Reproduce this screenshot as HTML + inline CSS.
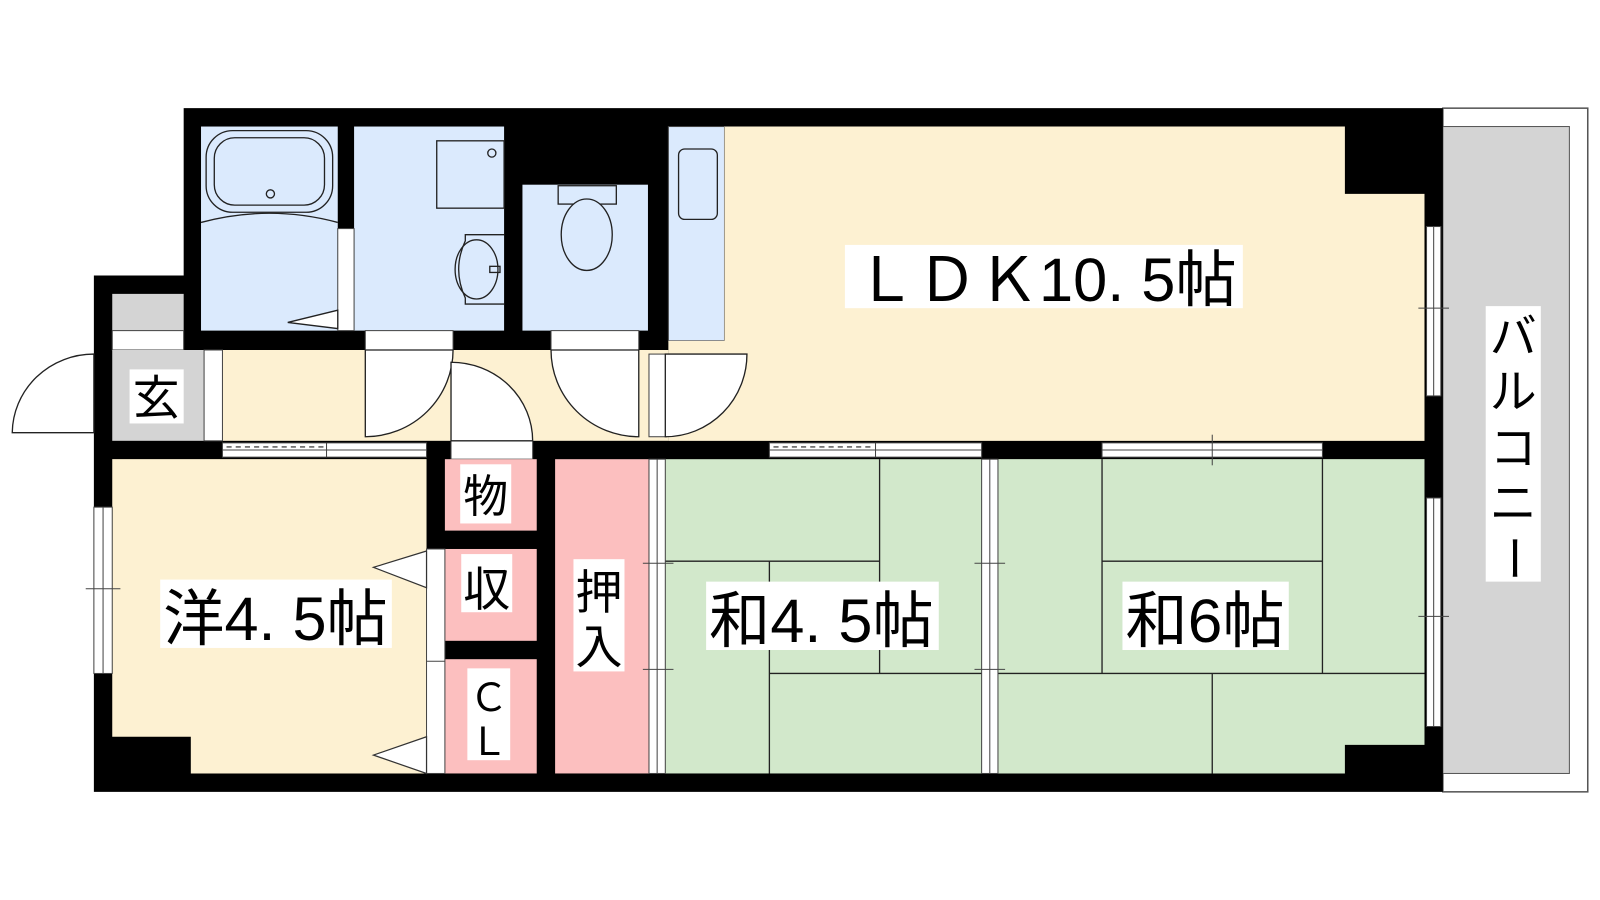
<!DOCTYPE html>
<html><head><meta charset="utf-8"><style>
html,body{margin:0;padding:0;background:#fff;width:1600px;height:900px;overflow:hidden}
text{font-family:"Liberation Sans","Noto Sans CJK JP",sans-serif;fill:#000}
</style></head><body>
<svg width="1600" height="900" viewBox="0 0 1568 882" preserveAspectRatio="none" xmlns="http://www.w3.org/2000/svg">
<!-- balcony -->
<rect x="1414" y="106" width="142" height="670" fill="#fff" stroke="#555" stroke-width="1.5"/>
<rect x="1414" y="124" width="124" height="634" fill="#d4d4d4" stroke="#555" stroke-width="1"/>
<rect x="1456" y="300" width="54" height="270" fill="#fff"/>
<g font-size="46" text-anchor="middle">
<text x="1483" y="346">バ</text>
<text x="1483" y="400">ル</text>
<text x="1483" y="455">コ</text>
<text x="1483" y="509">ニ</text>
<text x="1483" y="563" transform="rotate(90 1483 547)">ー</text>
</g>
<!-- building footprint -->
<polygon points="180,106 1414,106 1414,776 92,776 92,270 180,270" fill="#000"/>
<!-- wet areas -->
<rect x="197" y="124" width="134" height="200" fill="#dbeafd"/>
<rect x="347" y="124" width="147" height="200" fill="#dbeafd"/>
<rect x="512" y="181" width="123" height="143" fill="#dbeafd"/>
<rect x="655" y="124" width="55" height="210" fill="#dbeafd" stroke="#444" stroke-width="1"/>
<!-- LDK -->
<polygon points="710,124 1318,124 1318,190 1396,190 1396,432 655,432 655,334 710,334" fill="#fdf1d2"/>
<!-- hall -->
<rect x="218" y="343" width="437" height="89" fill="#fdf1d2"/>
<!-- genkan -->
<rect x="110" y="288" width="70" height="36" fill="#d4d4d4"/>
<rect x="110" y="324" width="70" height="19" fill="#fff" stroke="#444" stroke-width="1"/>
<rect x="110" y="343" width="90" height="89" fill="#d4d4d4"/>
<rect x="200" y="343" width="18" height="89" fill="#fff" stroke="#444" stroke-width="1"/>
<rect x="127" y="362" width="53" height="53" fill="#fff"/>
<text x="153" y="406" font-size="46" text-anchor="middle">玄</text>
<!-- door openings -->
<rect x="358" y="324" width="86" height="19" fill="#fff" stroke="#444" stroke-width="1"/>
<rect x="540" y="324" width="86" height="19" fill="#fff" stroke="#444" stroke-width="1"/>
<rect x="636" y="347" width="17" height="81" fill="#fff" stroke="#444" stroke-width="1"/>
<rect x="442" y="432" width="80" height="18" fill="#fff" stroke="#444" stroke-width="1"/>
<!-- 洋 -->
<polygon points="110,450 418,450 418,758 187,758 187,722 110,722" fill="#fdf1d2"/>
<!-- closets -->
<rect x="436" y="450" width="90" height="70" fill="#fcbfbf"/>
<rect x="436" y="538" width="90" height="90" fill="#fcbfbf"/>
<rect x="436" y="646" width="90" height="112" fill="#fcbfbf"/>
<rect x="544" y="450" width="92" height="308" fill="#fcbfbf"/>
<rect x="418" y="538" width="18" height="220" fill="#fff" stroke="#444" stroke-width="1"/>
<line x1="418" y1="648" x2="436" y2="648" stroke="#444"/>
<polygon points="418,540 366,556 418,576" fill="#fff" stroke="#333" stroke-width="1.2"/>
<polygon points="418,722 366,740 418,758" fill="#fff" stroke="#333" stroke-width="1.2"/>
<!-- washitsu -->
<rect x="652" y="450" width="310" height="308" fill="#d2e8cb"/>
<polygon points="978,450 1396,450 1396,730 1318,730 1318,758 978,758" fill="#d2e8cb"/>
<g stroke="#222" stroke-width="1.3" fill="none">
<line x1="862" y1="450" x2="862" y2="660"/><line x1="652" y1="550" x2="862" y2="550"/>
<line x1="754" y1="550" x2="754" y2="758"/><line x1="754" y1="660" x2="962" y2="660"/>
<line x1="1080" y1="450" x2="1080" y2="660"/><line x1="1296" y1="450" x2="1296" y2="660"/>
<line x1="1080" y1="550" x2="1296" y2="550"/><line x1="978" y1="660" x2="1396" y2="660"/>
<line x1="1188" y1="660" x2="1188" y2="758"/>
</g>
<!-- sliding strips -->
<g fill="#fff" stroke="#444" stroke-width="1">
<rect x="636" y="450" width="16" height="308"/><rect x="962" y="450" width="16" height="308"/>
<rect x="218" y="434" width="200" height="14"/><rect x="754" y="434" width="208" height="14"/>
<rect x="1080" y="434" width="216" height="14"/>
<rect x="92" y="497" width="18" height="163"/>
<rect x="1398" y="222" width="14" height="166"/><rect x="1398" y="488" width="14" height="224"/>
<rect x="331" y="224" width="16" height="100"/>
</g>
<g stroke="#444" stroke-width="1">
<line x1="644" y1="450" x2="644" y2="758"/><line x1="970" y1="450" x2="970" y2="758"/>
<line x1="101" y1="497" x2="101" y2="660"/><line x1="1405" y1="222" x2="1405" y2="388"/><line x1="1405" y1="488" x2="1405" y2="712"/>
<line x1="218" y1="441" x2="418" y2="441"/><line x1="754" y1="441" x2="962" y2="441"/><line x1="1080" y1="441" x2="1296" y2="441"/>
<line x1="320" y1="434" x2="320" y2="448"/><line x1="858" y1="434" x2="858" y2="448"/>
<line x1="630" y1="552" x2="660" y2="552"/><line x1="630" y1="656" x2="660" y2="656"/>
<line x1="955" y1="552" x2="985" y2="552"/><line x1="955" y1="656" x2="985" y2="656"/>
<line x1="84" y1="577" x2="118" y2="577"/><line x1="1390" y1="302" x2="1420" y2="302"/><line x1="1390" y1="604" x2="1420" y2="604"/>
<line x1="1188" y1="426" x2="1188" y2="456"/>
</g>
<line x1="222" y1="438" x2="318" y2="438" stroke="#222" stroke-dasharray="5,4"/>
<line x1="758" y1="438" x2="856" y2="438" stroke="#222" stroke-dasharray="5,4"/>
<!-- doors -->
<g fill="#fff" stroke="#222" stroke-width="1.3">
<path d="M92,347 A80,78 0 0 0 12,424 L92,424 Z"/>
<path d="M358,343 L444,343 A86,85 0 0 1 358,428 Z"/>
<path d="M442,355 A80,77 0 0 1 522,432 L442,432 Z"/>
<path d="M540,343 L626,343 L626,428 A86,85 0 0 1 540,343 Z"/>
<path d="M652,347 L732,347 A80,81 0 0 1 652,428 Z"/>
<polygon points="331,304 282,316 331,322"/>
</g>
<!-- fixtures -->
<g fill="none" stroke="#222" stroke-width="1.3">
<rect x="202" y="128" width="124" height="80" rx="26"/>
<rect x="210" y="135" width="108" height="66" rx="20"/>
<circle cx="265" cy="190" r="4"/>
<path d="M197,218 Q264,200 331,218"/>
<rect x="428" y="138" width="66" height="66" fill="#dbeafd"/>
<circle cx="482" cy="150" r="4"/>
<path d="M494,230 L456,230 L456,236 Q443,264 456,292 L456,298 L494,298"/>
<ellipse cx="467" cy="264" rx="21" ry="29"/>
<rect x="480" y="261" width="10" height="6"/>
<rect x="547" y="182" width="57" height="18" fill="#dbeafd"/>
<ellipse cx="575" cy="230" rx="25" ry="35" fill="#dbeafd"/>
<rect x="665" y="146" width="38" height="69" rx="6"/>
</g>
<!-- labels -->
<rect x="828" y="240" width="390" height="62" fill="#fff"/>
<text x="838" y="295" font-size="60" textLength="374" lengthAdjust="spacingAndGlyphs">ＬＤＫ10. 5帖</text>
<rect x="157" y="568" width="227" height="67" fill="#fff"/>
<text x="160" y="627" font-size="60" textLength="220" lengthAdjust="spacingAndGlyphs">洋4. 5帖</text>
<rect x="692" y="570" width="228" height="67" fill="#fff"/>
<text x="695" y="629" font-size="60" textLength="220" lengthAdjust="spacingAndGlyphs">和4. 5帖</text>
<rect x="1100" y="570" width="163" height="67" fill="#fff"/>
<text x="1103" y="629" font-size="60" textLength="156" lengthAdjust="spacingAndGlyphs">和6帖</text>
<rect x="562" y="548" width="50" height="110" fill="#fff"/>
<text x="587" y="597" font-size="46" text-anchor="middle">押</text>
<text x="587" y="650" font-size="46" text-anchor="middle">入</text>
<rect x="451" y="455" width="50" height="58" fill="#fff"/>
<text x="476" y="502" font-size="44" text-anchor="middle">物</text>
<rect x="452" y="543" width="50" height="57" fill="#fff"/>
<text x="477" y="594" font-size="46" text-anchor="middle">収</text>
<rect x="458" y="655" width="42" height="90" fill="#fff"/>
<text x="479" y="697" font-size="38" text-anchor="middle">Ｃ</text>
<text x="479" y="740" font-size="38" text-anchor="middle">Ｌ</text>
</svg>
</body></html>
